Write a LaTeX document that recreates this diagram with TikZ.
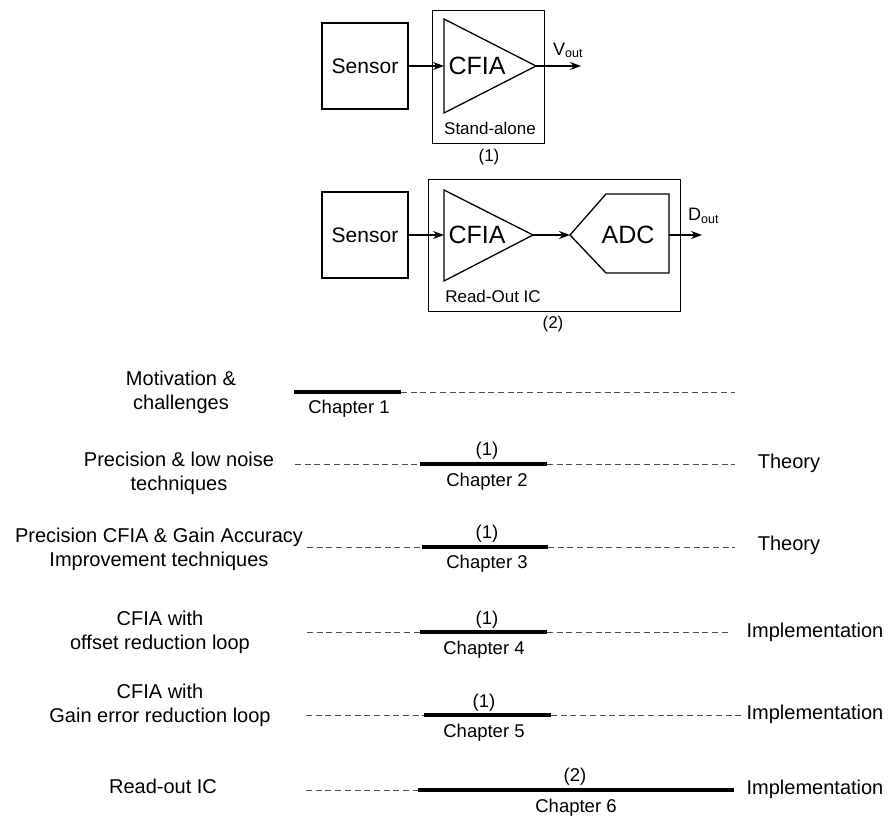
\documentclass[tikz,border=0pt]{standalone}
\usepackage{fontspec}
\setmainfont{Liberation Sans}
\usetikzlibrary{arrows.meta}

\tikzset{
  blockbox/.style={draw, line width=1.1pt, minimum width=86pt, minimum height=86pt, inner sep=0pt, font=\fontsize{21}{25}\selectfont},
  sysbox/.style={draw, line width=0.9pt},
  ampline/.style={line width=1.3pt, line join=miter},
  sig/.style={line width=1.1pt, -{Stealth[length=11pt,width=8pt]}},
  bigtext/.style={inner sep=0pt, font=\fontsize{25}{30}\selectfont},
  captext/.style={inner sep=0pt, font=\fontsize{17}{20}\selectfont},
  chapline/.style={line width=3.2pt},
  gapline/.style={black!70, line width=1pt, dash pattern=on 6pt off 3.7pt},
  desc/.style={align=center, inner sep=0pt, font=\fontsize{20}{24}\selectfont},
  chap/.style={inner sep=0pt, font=\fontsize{18.5}{22}\selectfont},
}

\begin{document}
\begin{tikzpicture}[x=1pt, y=-1pt]

        \useasboundingbox (0,0) rectangle (890,818);

        %Stand-alone system (1)
        \draw [sysbox]              (432,10) rectangle (544,143);
        \node [blockbox] (sens1) at (365,66) {Sensor};
        \draw [ampline]             (444,19) -- (536,66) -- (444,113) -- cycle;
        \coordinate (amp1in)  at (444,66);
        \coordinate (amp1out) at (536,66);
        \coordinate (vout)    at (581,66);
        \node [bigtext] (amp1) at (477,66) {CFIA};
        \node [captext] (alone) at (490,128) {Stand-alone};
        \node [captext] (num1) at (489,157) {(1)};
        \node [anchor=base west, inner sep=0pt, font=\fontsize{18}{20}\selectfont] (vlab) at (553,56)
              {V\raisebox{-2pt}{\fontsize{12.5}{14}\selectfont out}};
        \draw [sig]                 (sens1.east) -- (amp1in);
        \draw [sig]                 (amp1out) -- (vout);

        %Read-out IC system (2)
        \draw [sysbox]              (428,179) rectangle (680,311);
        \node [blockbox] (sens2) at (365,235) {Sensor};
        \draw [ampline]             (444,190) -- (533,235) -- (444,281) -- cycle;
        \draw [ampline]             (570,235) -- (606,194) -- (669,194) -- (669,273) -- (606,273) -- cycle;
        \coordinate (amp2in)  at (444,235);
        \coordinate (amp2out) at (533,235);
        \coordinate (adcin)   at (570,235);
        \coordinate (adcout)  at (669,235);
        \coordinate (dout)    at (702,235);
        \node [bigtext] (amp2) at (477,235) {CFIA};
        \node [bigtext] (adc)  at (628,235) {ADC};
        \node [captext] (roic) at (493,296) {Read-Out IC};
        \node [captext] (num2) at (553,324) {(2)};
        \node [anchor=base west, inner sep=0pt, font=\fontsize{18}{20}\selectfont] (dlab) at (688,221)
              {D\raisebox{-2pt}{\fontsize{12.5}{14}\selectfont out}};
        \draw [sig]                 (sens2.east) -- (amp2in);
        \draw [sig]                 (amp2out) -- (adcin);
        \draw [sig]                 (adcout) -- (dout);

        %Chapter 1
        \node [desc] (par1) at (181,392) {Motivation \&\\challenges};
        \draw [chapline]            (294,392) -- (401,392);
        \draw [gapline]             (401,392) -- (735,392);
        \node [chap] (ch1) at (349,409) {Chapter 1};

        %Chapter 2
        \node [desc] (par2) at (179,473) {Precision \& low noise\\techniques};
        \draw [gapline]             (295,464) -- (420,464);
        \draw [chapline]            (420,464) -- (547,464);
        \draw [gapline]             (547,464) -- (735,464);
        \node [chap] (sys2) at (487,451) {(1)};
        \node [chap] (ch2) at (487,482) {Chapter 2};
        \node [desc] (kind2) at (789,463) {Theory};

        %Chapter 3
        \node [desc] (par3) at (159,549) {Precision CFIA \& Gain Accuracy\\Improvement techniques};
        \draw [gapline]             (307,547) -- (422,547);
        \draw [chapline]            (422,547) -- (548,547);
        \draw [gapline]             (548,547) -- (735,547);
        \node [chap] (sys3) at (487,534) {(1)};
        \node [chap] (ch3) at (487,564) {Chapter 3};
        \node [desc] (kind3) at (789,545) {Theory};

        %Chapter 4
        \node [desc] (par4) at (160,632) {CFIA with\\offset reduction loop};
        \draw [gapline]             (307,632) -- (420,632);
        \draw [chapline]            (420,632) -- (547,632);
        \draw [gapline]             (547,632) -- (728,632);
        \node [chap] (sys4) at (487,620) {(1)};
        \node [chap] (ch4) at (484,650) {Chapter 4};
        \node [desc] (kind4) at (815,632) {Implementation};

        %Chapter 5
        \node [desc] (par5) at (160,705) {CFIA with\\Gain error reduction loop};
        \draw [gapline]             (306,715) -- (424,715);
        \draw [chapline]            (424,715) -- (551,715);
        \draw [gapline]             (551,715) -- (745,715);
        \node [chap] (sys5) at (484,703) {(1)};
        \node [chap] (ch5) at (484,733) {Chapter 5};
        \node [desc] (kind5) at (815,714) {Implementation};

        %Chapter 6
        \node [desc] (par6) at (163,786) {Read-out IC};
        \draw [gapline]             (306,790) -- (418,790);
        \draw [chapline]            (418,790) -- (734,790);
        \node [chap] (sys6) at (575,777) {(2)};
        \node [chap] (ch6) at (576,808) {Chapter 6};
        \node [desc] (kind6) at (815,789) {Implementation};

\end{tikzpicture}
\end{document}
